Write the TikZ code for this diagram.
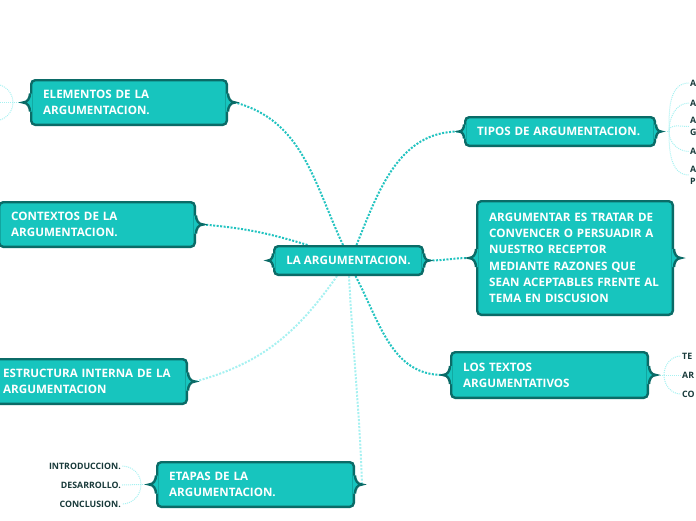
\documentclass[tikz,border=0pt]{standalone}
\usepackage{fontspec}
\setmainfont{Open Sans}[BoldFont={Open Sans Bold}]
\usetikzlibrary{backgrounds,calc}
\definecolor{fl}{HTML}{17C5BE}
\definecolor{bd}{HTML}{0B6B67}
\definecolor{cn}{HTML}{22C3C0}
\definecolor{cl}{HTML}{A6F1F1}
\definecolor{lf}{HTML}{183A3A}
\tikzset{
  box/.style={draw=bd, fill=fl, line width=2.4pt, rounded corners=4pt, text=white,
    font=\bfseries\fontsize{11.6}{16.3}\selectfont, align=left, inner xsep=12pt, inner ysep=0pt},
  conn/.style={draw=cn, line width=2pt, dash pattern=on 2pt off 1.5pt},
  connlight/.style={conn, draw=cl},
  sub/.style={draw=cl, line width=1pt, dash pattern=on 1pt off 1pt},
  leaf/.style={font=\bfseries\fontsize{8.8}{12}\selectfont, text=lf, inner sep=1pt, align=left},
}
\newcommand\tabLeft[3]{%
  \fill[fl] ([shift={(2pt,#3)}]#1.west) -- ([yshift=#3]#1.west) to[out=-90,in=0] ([xshift=-#2]#1.west)
    to[out=0,in=90] ([yshift=-#3]#1.west) -- ([shift={(2pt,-#3)}]#1.west) -- cycle;
  \draw[bd, line width=2.4pt] ([yshift=#3]#1.west) to[out=-90,in=0] ([xshift=-#2]#1.west)
    to[out=0,in=90] ([yshift=-#3]#1.west);
  \coordinate (#1-l) at ([xshift=-#2]#1.west);}
\newcommand\tabRight[3]{%
  \fill[fl] ([shift={(-2pt,#3)}]#1.east) -- ([yshift=#3]#1.east) to[out=-90,in=180] ([xshift=#2]#1.east)
    to[out=180,in=90] ([yshift=-#3]#1.east) -- ([shift={(-2pt,-#3)}]#1.east) -- cycle;
  \draw[bd, line width=2.4pt] ([yshift=#3]#1.east) to[out=-90,in=180] ([xshift=#2]#1.east)
    to[out=180,in=90] ([yshift=-#3]#1.east);
  \coordinate (#1-r) at ([xshift=#2]#1.east);}
\begin{document}
\begin{tikzpicture}[x=1pt,y=1pt]
\useasboundingbox (0,0) rectangle (696,-520);
% boxes
\node[box, minimum width=148.6pt, minimum height=28.6pt, align=center] (C) at (348.5,-260.5) {LA ARGUMENTACION.};
\node[box, text width=171.6pt, minimum height=44.6pt] (E) at (129,-102.5) {\mbox{ELEMENTOS DE LA}\\\mbox{ARGUMENTACION.}};
\node[box, text width=171.6pt, minimum height=44.6pt] (K) at (97,-224.5) {\mbox{CONTEXTOS DE LA}\\\mbox{ARGUMENTACION.}};
\node[box, text width=171.6pt, minimum height=44.6pt] (S) at (89,-381.5) {\mbox{ESTRUCTURA INTERNA DE LA}\\\mbox{ARGUMENTACION}};
\node[box, text width=172.6pt, minimum height=44.6pt] (T) at (255.5,-484.5) {\mbox{ETAPAS DE LA}\\\mbox{ARGUMENTACION.}};
\node[box, text width=165.6pt, minimum height=28.6pt] (P) at (560,-131.5) {\mbox{TIPOS DE ARGUMENTACION.}};
\node[box, text width=171.6pt, minimum height=113.6pt] (A) at (575,-258) {\mbox{ARGUMENTAR ES TRATAR DE}\\\mbox{CONVENCER O PERSUADIR A}\\\mbox{NUESTRO RECEPTOR}\\\mbox{MEDIANTE RAZONES QUE}\\\mbox{SEAN ACEPTABLES FRENTE AL}\\\mbox{TEMA EN DISCUSION}};
\node[box, text width=172.6pt, minimum height=45.6pt] (L) at (549.5,-375) {\mbox{LOS TEXTOS}\\\mbox{ARGUMENTATIVOS}};
% braces
\tabLeft{C}{5pt}{7pt}\tabRight{C}{5pt}{7pt}
\tabLeft{E}{7pt}{9pt}\tabRight{E}{7pt}{9pt}
\tabRight{K}{7pt}{9pt}
\tabRight{S}{7pt}{9pt}
\tabLeft{T}{7pt}{9pt}\tabRight{T}{7pt}{9pt}
\tabLeft{P}{5pt}{7pt}\tabRight{P}{5pt}{7pt}
\tabLeft{A}{7pt}{9pt}\tabRight{A}{7pt}{9pt}
\tabLeft{L}{7pt}{9pt}\tabRight{L}{7pt}{9pt}
% leaves
\node[leaf, anchor=west] (p1) at (689,-83) {A};
\node[leaf, anchor=west] (p2) at (689,-103) {A};
\node[leaf, anchor=west] (p3) at (689,-126.5) {A\\G};
\node[leaf, anchor=west] (p4) at (689,-151.5) {A};
\node[leaf, anchor=west] (p5) at (689,-175) {A\\P};
\node[leaf, anchor=west] (l1) at (681,-356) {TE};
\node[leaf, anchor=west] (l2) at (681,-375) {AR};
\node[leaf, anchor=west] (l3) at (681,-394) {CO};
\node[leaf, anchor=east] (t1) at (122,-466) {INTRODUCCION.};
\node[leaf, anchor=east] (t2) at (122,-485) {DESARROLLO.};
\node[leaf, anchor=east] (t3) at (122,-504) {CONCLUSION.};
\coordinate (Pj) at (669,-131.5);
\coordinate (Lj) at (664,-375);
\coordinate (Tj) at (141,-484.5);
\coordinate (Ej) at (13,-102.5);
\coordinate (e1) at (-6,-84);
\coordinate (e2) at (-6,-102.5);
\coordinate (e3) at (-6,-121);
% connectors
\begin{scope}[on background layer]
\draw[conn] ([xshift=-5.5pt]C.north) to[out=115,in=-15] (E-r);
\draw[conn] ([xshift=-41pt]C.north) to[out=163,in=-5] (K-r);
\draw[conn] ([xshift=8pt]C.north) to[out=68,in=180] (P-l);
\draw[conn] (C-r) to[out=0,in=180] (A-l);
\draw[conn] ([xshift=7pt]C.south) to[out=-62,in=180] (L-l);
\draw[connlight] ([xshift=-11.5pt]C.south) to[out=-125,in=15] (S-r);
\draw[connlight] ([xshift=0.5pt]C.south) to[out=-87,in=92] (T-r);
% sub branches
\draw[sub] (P-r) -- (Pj);
\draw[sub] (Pj) to[out=90,in=180] (p1.west);
\draw[sub] (Pj) to[out=90,in=180] (p2.west);
\draw[sub] (Pj) to[out=90,in=180] (p3.west);
\draw[sub] (Pj) to[out=-90,in=180] (p4.west);
\draw[sub] (Pj) to[out=-90,in=180] (p5.west);
\draw[sub] (L-r) -- (Lj);
\draw[sub] (Lj) to[out=90,in=180] (l1.west);
\draw[sub] (Lj) -- (l2.west);
\draw[sub] (Lj) to[out=-90,in=180] (l3.west);
\draw[sub] (T-l) -- (Tj);
\draw[sub] (Tj) to[out=90,in=0] (t1.east);
\draw[sub] (Tj) -- (t2.east);
\draw[sub] (Tj) to[out=-90,in=0] (t3.east);
\draw[sub] (E-l) -- (Ej);
\draw[sub] (Ej) to[out=90,in=0] (e1);
\draw[sub] (Ej) -- (e2);
\draw[sub] (Ej) to[out=-90,in=0] (e3);
\end{scope}
\end{tikzpicture}
\end{document}
